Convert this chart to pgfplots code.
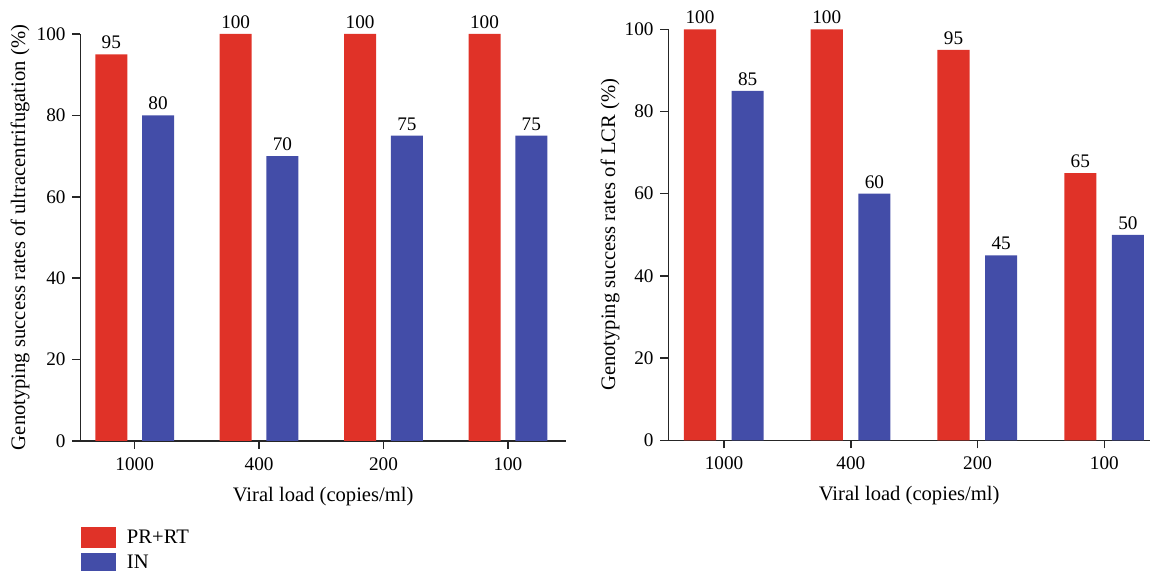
\documentclass[border=0pt]{standalone}
\usepackage{fontspec}
\setmainfont{Liberation Serif}
\usepackage{pgfplots}
\pgfplotsset{compat=1.18}
\definecolor{barred}{RGB}{224,50,40}
\definecolor{barblue}{RGB}{67,77,168}
\pgfplotsset{
  prism/.style={
    scale only axis,
    axis lines=left,
    axis line style={-, line width=0.75pt, black!85},
    every tick/.style={line width=0.75pt, black!85},
    tick align=outside,
    major tick length=4pt,
    ymin=0, ymax=100,
    ytick={0,20,40,60,80,100},
    xtick={0,1,2,3},
    xticklabels={1000,400,200,100},
    enlargelimits=false,
    clip=false,
    ybar,
    bar width=0.257,
    /pgf/number format/assume math mode=true,
    nodes near coords,
    every node near coord/.append style={font=\fontsize{9.6}{11}\selectfont, inner sep=2.5pt},
    tick label style={font=\fontsize{9.6}{11}\selectfont},
    xticklabel style={yshift=-1pt},
    label style={font=\fontsize{10.3}{12}\selectfont},
    xlabel={Viral load (copies/ml)},
    xlabel shift=1.5pt,
  }
}
\begin{document}
\fontsize{9.6}{11}\selectfont
\begin{tikzpicture}[font=\fontsize{9.6}{11}\selectfont]
\useasboundingbox (0,0) rectangle (575pt,285.5pt);
\begin{axis}[prism,
  at={(40.15pt,65pt)}, anchor=south west,
  width=242.85pt, height=203.5pt,
  xmin=-0.437, xmax=3.467,
  ylabel={Genotyping success rates of ultracentrifugation (\%)},
  ylabel shift=-3pt,
  legend style={draw=none, fill=none, at={(axis description cs:0.0014,-0.208)}, anchor=north west,
    font=\fontsize{10.3}{12}\selectfont, row sep=0.5pt, inner sep=0pt, outer sep=0pt,
    /tikz/every odd column/.append style={column sep=3.5pt}},
  legend cell align=left,
  legend image code/.code={\fill[#1] (0pt,-5.25pt) rectangle (17.5pt,5.25pt);},
]
\addplot[fill=barred, draw=none, bar shift=-0.188] coordinates {(0,95) (1,100) (2,100) (3,100)};
\addplot[fill=barblue, draw=none, bar shift=0.188] coordinates {(0,80) (1,70) (2,75) (3,75)};
\legend{PR+RT, IN}
\end{axis}
\begin{axis}[prism,
  at={(334.15pt,65.35pt)}, anchor=south west,
  width=240.85pt, height=205.5pt,
  xmin=-0.44, xmax=3.36,
  bar width=0.253,
  ylabel={Genotyping success rates of LCR (\%)},
  ylabel shift=-4pt,
]
\addplot[fill=barred, draw=none, bar shift=-0.19] coordinates {(0,100) (1,100) (2,95) (3,65)};
\addplot[fill=barblue, draw=none, bar shift=0.186] coordinates {(0,85) (1,60) (2,45) (3,50)};
\end{axis}
\end{tikzpicture}
\end{document}
